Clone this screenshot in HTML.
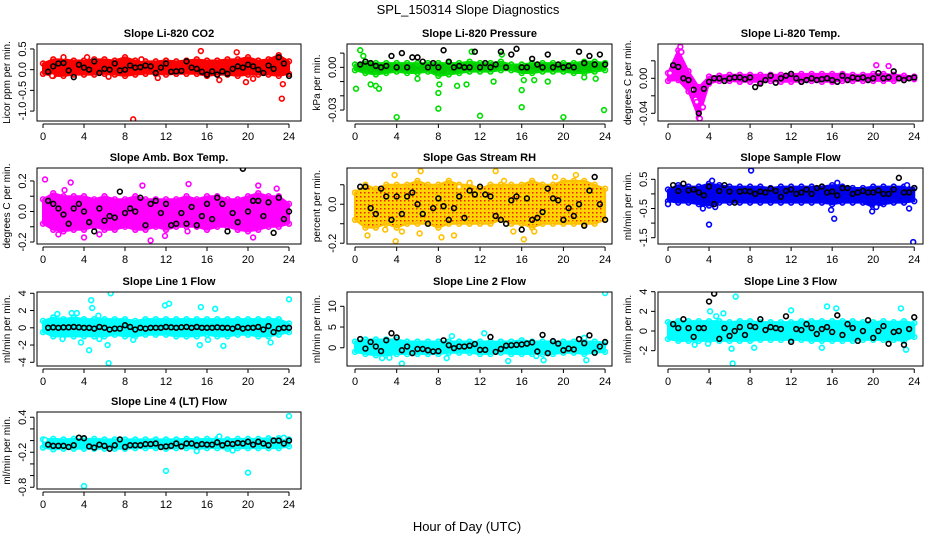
<!DOCTYPE html>
<html><head><meta charset="utf-8"><style>
html,body{margin:0;padding:0;background:#fff}
svg{display:block;font-family:"Liberation Sans",sans-serif}
</style></head><body>
<svg id="chart" width="936" height="540" viewBox="0 0 936 540">
<defs>
<pattern id="rhpat" width="4" height="4" patternUnits="userSpaceOnUse"><rect width="4" height="4" fill="#ffd400"/><rect x="0" y="0" width="1.5" height="1.5" fill="#f02000"/></pattern>
</defs>
<text x="468" y="14" text-anchor="middle" font-size="13">SPL_150314  Slope Diagnostics</text>
<text x="467" y="531" text-anchor="middle" font-size="13">Hour of Day (UTC)</text>
</svg>
<script>
// ---- data (hours 0..24) ----
const hourCats = [0,1,2,3,4,5,6,7,8,9,10,11,12,13,14,15,16,17,18,19,20,21,22,23,24];
const xTicks = [0,4,8,12,16,20,24];

// P1 CO2
const co2Lo = [-0.1,-0.15,-0.15,-0.12,-0.12,-0.12,-0.1,-0.12,-0.15,-0.12,-0.1,-0.1,-0.12,-0.1,-0.1,-0.1,-0.15,-0.12,-0.12,-0.15,-0.12,-0.12,-0.12,-0.15,-0.1];
const co2Hi = [0.15,0.25,0.25,0.22,0.22,0.25,0.25,0.22,0.3,0.22,0.2,0.2,0.22,0.2,0.22,0.25,0.22,0.22,0.25,0.25,0.3,0.22,0.25,0.35,0.2];
const co2OutX = [8.8,15.4,18.9,23.3,23.4,11.2,17.2,19.8,20.5,0.9,2.0,4.3,6.4,9.6];
const co2OutY = [-1.2,0.45,0.42,-0.7,-0.35,-0.2,-0.25,-0.3,-0.22,-0.15,0.3,0.3,-0.17,0.25];
const co2Blk = [-0.05,0.08,0.15,0.16,-0.02,-0.18,0.12,0.05,0.0,0.2,-0.08,0.02,0.0,0.15,-0.02,0.0,0.1,0.05,0.06,0.1,0.08,-0.08,0.05,0.15,-0.05,-0.04,-0.03,0.2,0.05,0.02,-0.05,-0.12,-0.04,-0.12,-0.04,-0.1,0.02,0.08,0.05,0.12,0.08,0.0,-0.08,0.1,0.02,0.3,0.15,-0.15];
// P2 Pressure
const prLo = [-0.002,-0.004,-0.005,-0.004,-0.003,-0.004,-0.004,-0.003,-0.006,-0.005,-0.004,-0.003,-0.003,-0.003,-0.002,-0.002,-0.004,-0.004,-0.003,-0.003,-0.003,-0.004,-0.004,-0.003,-0.002];
const prHi = [0.002,0.004,0.003,0.003,0.003,0.003,0.003,0.003,0.003,0.003,0.003,0.004,0.003,0.003,0.004,0.002,0.002,0.003,0.003,0.003,0.003,0.003,0.004,0.004,0.003];
const prOutX = [0.1,0.5,1.5,2.0,2.3,4.0,6.0,8.0,8.0,8.1,9.8,10.7,12.0,13.3,14.1,16.0,16.0,16.2,17.2,18.5,20.0,22.0,23.1,23.9,0.8,11.2];
const prOutY = [-0.015,0.012,-0.012,-0.013,-0.015,-0.035,-0.008,-0.029,-0.018,-0.012,-0.013,-0.012,-0.034,-0.010,0.009,-0.016,-0.028,-0.009,-0.009,-0.010,-0.035,-0.007,-0.008,-0.030,0.008,0.011];
const prBlk = [0.002,0.004,0.003,0.001,0.0,0.001,0.008,0.0,0.01,0.0,0.007,0.007,0.004,0.0,0.003,0.0,0.012,0.004,0.0,0.001,0.0,0.0,0.011,0.0,0.003,0.0,0.002,0.011,0.0,0.009,0.013,0.0,0.0,0.006,0.002,0.0,0.009,0.0,0.002,0.0,0.001,0.0,0.011,0.003,0.008,0.002,0.009,0.002];
// P3 Li-820 Temp
const ltLo = [-0.003,-0.002,-0.015,-0.045,-0.006,-0.003,-0.003,-0.004,-0.004,-0.004,-0.003,-0.004,-0.004,-0.004,-0.003,-0.004,-0.004,-0.003,-0.003,-0.003,-0.003,-0.003,-0.003,-0.002,-0.001];
const ltHi = [0.006,0.032,0.008,-0.01,0.002,0.003,0.004,0.004,0.004,0.004,0.004,0.004,0.005,0.005,0.005,0.005,0.005,0.005,0.004,0.004,0.005,0.005,0.004,0.003,0.002];
const ltOutX = [1.2,1.3,2.3,2.7,2.8,3.1,3.4,20.3,21.5,0.2];
const ltOutY = [0.036,0.03,-0.013,-0.024,-0.027,-0.046,-0.033,0.015,0.014,0.006];
const ltBlk = [0.015,0.013,0.0,-0.002,-0.013,-0.04,-0.012,-0.004,0.0,0.0,-0.003,0.0,0.001,0.001,-0.001,0.001,-0.01,-0.006,-0.002,0.003,-0.005,0.0,0.003,0.005,0.0,-0.004,-0.002,0.0,-0.002,-0.001,0.0,-0.002,-0.004,0.003,-0.002,0.001,0.0,0.001,-0.002,0.0,0.006,0.0,0.001,0.008,0.0,-0.002,0.0,0.001];
// P4 Amb box temp
const abLo = [-0.08,-0.12,-0.13,-0.12,-0.12,-0.1,-0.12,-0.12,-0.1,-0.12,-0.12,-0.1,-0.12,-0.1,-0.1,-0.1,-0.12,-0.1,-0.1,-0.12,-0.13,-0.12,-0.1,-0.1,-0.08];
const abHi = [0.08,0.12,0.1,0.1,0.1,0.08,0.1,0.08,0.08,0.1,0.08,0.08,0.08,0.08,0.1,0.08,0.1,0.1,0.08,0.08,0.1,0.12,0.1,0.1,0.05];
const abOutX = [0.2,2.7,10.5,14.2,20.5,5.5,1.5,4,11.9,14.1,21,22.8,9.7,2.1];
const abOutY = [0.21,0.19,-0.19,0.18,-0.17,-0.15,-0.15,-0.17,-0.16,-0.13,0.17,0.15,0.17,0.14];
const abBlk = [0.07,0.05,0.02,-0.02,-0.08,0.02,0.05,0.0,-0.07,-0.13,0.02,-0.06,-0.03,-0.04,0.13,-0.01,0.02,0.0,0.09,-0.09,0.05,0.07,-0.01,0.05,-0.09,-0.08,-0.01,-0.08,0.03,-0.09,-0.03,0.05,-0.05,0.09,0.05,-0.13,-0.01,-0.07,0.28,0.0,0.07,0.07,-0.03,0.06,-0.14,0.09,-0.05,0.0];
// P5 Gas stream RH
const rhLo = [-0.08,-0.12,-0.12,-0.1,-0.12,-0.1,-0.1,-0.1,-0.12,-0.1,-0.1,-0.1,-0.1,-0.1,-0.08,-0.1,-0.1,-0.12,-0.1,-0.1,-0.1,-0.1,-0.1,-0.1,-0.08];
const rhHi = [0.06,0.1,0.08,0.1,0.1,0.1,0.12,0.1,0.1,0.12,0.1,0.1,0.08,0.1,0.1,0.1,0.1,0.12,0.1,0.1,0.12,0.12,0.12,0.1,0.08];
const rhOutX = [3.9,13.5,6.3,3.8,1.2,2.9,8.3,9.5,16.2,15.2,21.2,19.2,17.2,14.3,4.5,6.2,11,10];
const rhOutY = [-0.19,0.17,0.17,0.15,-0.16,-0.13,-0.17,-0.16,-0.18,-0.14,0.15,0.14,-0.14,0.12,-0.14,-0.15,0.11,0.09];
const rhBlk = [0.09,0.09,-0.02,-0.05,0.08,0.04,-0.08,0.04,-0.05,0.04,0.06,0.0,-0.05,-0.1,-0.02,0.03,-0.01,-0.08,-0.02,0.04,-0.07,0.07,0.05,0.09,0.05,0.04,-0.06,-0.08,-0.1,0.02,0.04,-0.13,0.03,-0.08,-0.07,-0.04,0.08,0.03,0.02,-0.08,-0.02,-0.06,0.0,-0.11,0.07,0.14,0.0,-0.08];
// P6 Sample flow
const sfLo = [-0.25,-0.3,-0.3,-0.35,-0.4,-0.3,-0.3,-0.3,-0.3,-0.3,-0.3,-0.3,-0.3,-0.3,-0.3,-0.3,-0.35,-0.3,-0.3,-0.3,-0.45,-0.35,-0.3,-0.3,-0.25];
const sfHi = [0.15,0.3,0.25,0.25,0.35,0.3,0.25,0.25,0.25,0.25,0.2,0.25,0.25,0.25,0.25,0.25,0.3,0.25,0.2,0.2,0.25,0.25,0.25,0.25,0.2];
const sfOutX = [4.0,8.1,16.2,15.9,23.9,19.9,0,4.3,23.5,20.3,16.5,23.3,4.6,3.4];
const sfOutY = [-1.05,0.8,-0.85,-0.55,-1.65,-0.6,-0.35,0.45,-0.5,-0.45,0.38,0.3,-0.45,-0.5];
const sfBlk = [0.3,0.1,0.35,0.12,0.15,0.05,-0.05,0.25,-0.35,0.1,0.3,0.08,-0.3,0.08,0.1,0.08,0.0,0.08,0.05,0.18,0.1,-0.1,0.1,0.15,0.0,0.05,0.15,0.0,0.2,0.25,0.05,0.08,-0.05,0.2,0.2,0.0,0.05,0.1,0.05,0.05,0.12,0.0,0.0,0.15,0.55,0.05,0.05,0.2];
// P7 Line 1
const l1Lo = [-0.5,-1,-1,-1,-1,-1,-1,-0.8,-1,-1,-0.8,-0.8,-0.8,-1,-1,-1,-0.8,-1,-1,-0.8,-0.8,-1,-1,-0.8,-0.5];
const l1Hi = [0.8,1.2,1,1.2,1,1,1,1,1,0.8,1,1,1,1,1,1,1,1,1,1,1,1,1,1,0.5];
const l1OutX = [4.7,4.8,6.6,6.4,6.3,4.5,11.9,12.3,15.4,15.3,16.8,17.6,22.2,24,1.4,2.8,3.3,5.4,1.9,8.8,16.1,5.5,3.7];
const l1OutY = [3.2,2.3,4.0,-4.1,-2.0,-2.6,2.6,2.8,2.4,-2.0,2.2,-2.1,-1.7,3.3,1.6,1.7,1.7,1.4,-1.3,-1.4,-1.4,-1.3,-1.7];
const l1Blk = [0,0.05,0,0.05,0.05,0.1,0.05,0,0,-0.1,0.1,0,-0.2,-0.1,-0.1,0.3,0.1,-0.2,0,-0.1,0,0,0,0.1,0.05,0,0.05,0.1,0,0.1,0,0,0,0.05,0,0,-0.1,0.1,-0.1,0,0,0.1,-0.2,0.2,-0.5,-0.1,0,0];
// P8 Line 2
const l2Lo = [-1,-1.5,-1.8,-1.8,-1.5,-1.5,-1.5,-1.5,-1.5,-1.2,-1.2,-1.2,-1.5,-1.5,-1.2,-1.5,-1.5,-1.5,-1.5,-1.5,-1.2,-1.2,-1.5,-1.2,-1];
const l2Hi = [1.5,2,2,2,2,1.5,1.5,1.5,1.5,1.5,1.5,1.5,1.5,1.5,1.5,1.5,1.8,1.5,1.5,1.5,1.5,1.5,1.5,1.5,1.2];
const l2OutX = [24,4.5,14.7,22.2,2.6,3.3,9.3,12.4,8.8,18.1,17.4,22];
const l2OutY = [13.2,-3.8,-3.2,-3,-2.5,-2.4,2.8,3.5,-2.5,-3,-2,2.4];
const l2Blk = [2.1,-0.2,1.4,0.3,-0.8,1.8,3.5,2.5,-0.6,0.3,-1.3,-0.3,-0.3,-0.6,-0.9,-0.8,1.8,0.6,-0.1,0.3,0.3,0.5,0.9,-0.5,-0.5,2.6,-1.0,-0.3,0.5,0.6,0.7,0.8,1.0,1.3,-0.9,3.1,-1.3,1.6,1.0,-0.6,-0.2,-0.4,2.1,1.1,3.0,-1.2,0.3,1.4];
// P9 Line 3
const l3Lo = [-0.8,-1,-1,-1,-1,-1,-1,-1,-1,-0.9,-0.9,-0.9,-0.9,-0.9,-1,-1,-1,-1,-1,-0.9,-0.9,-0.9,-0.9,-1,-0.6];
const l3Hi = [0.9,1,1,1,1,1,0.9,1,1,0.9,0.9,0.9,0.9,1,1,1,1,1,1,0.9,0.9,1,0.9,1,0.8];
const l3OutX = [6.6,6.3,6.2,22.7,23.2,15.5,16.4,12.0,4.1,5.4,4.7,2.6,8.4,15.0,3.9];
const l3OutY = [3.5,-3.3,-1.8,2.3,-1.9,2.5,2.3,2.1,2.0,1.8,1.5,-1.4,-1.7,-1.7,-1.3];
const l3Blk = [0.7,0.3,1.2,0.3,-0.6,0.3,0.3,3.0,3.8,-0.8,0.3,-0.5,0.0,0.4,-0.4,0.5,0.4,1.2,0.1,0.4,0.3,0.2,1.5,-1.1,0.2,0.1,0.7,0.3,-0.3,0.2,0.4,-0.1,1.6,-0.4,0.7,0.3,-1.0,0.0,1.1,-0.7,0.0,0.5,-1.3,-0.1,0.0,-1.4,0.2,1.4];
// P10 Line 4 (LT)
const l4Lo = [-0.12,-0.15,-0.14,-0.14,-0.14,-0.14,-0.14,-0.14,-0.14,-0.13,-0.13,-0.13,-0.14,-0.13,-0.13,-0.14,-0.13,-0.13,-0.14,-0.13,-0.13,-0.13,-0.13,-0.13,-0.1];
const l4Hi = [0.02,0.03,0.02,0.03,0.03,0.03,0.02,0.02,0.02,0.02,0.02,0.02,0.02,0.02,0.03,0.02,0.03,0.03,0.02,0.03,0.03,0.03,0.04,0.04,0.02];
const l4OutX = [4.0,12.0,20.0,24,0.2,17.2,15.0,18.5,23.5];
const l4OutY = [-0.78,-0.52,-0.55,0.42,0.01,0.07,-0.18,-0.17,0.05];
const l4Blk = [-0.07,-0.09,-0.09,-0.09,-0.11,-0.08,0.05,0.04,-0.1,-0.12,-0.07,-0.09,-0.14,-0.08,0.02,-0.11,-0.08,-0.08,-0.08,-0.06,-0.06,-0.05,-0.11,-0.10,-0.09,-0.05,-0.10,-0.05,-0.05,-0.08,-0.06,-0.07,-0.07,-0.03,-0.08,-0.05,-0.06,-0.04,-0.05,-0.02,-0.07,-0.02,-0.05,-0.08,0.0,0.0,-0.05,0.0];

const NS = "http://www.w3.org/2000/svg";
const svg = document.getElementById("chart");
function mk(tag, attrs, parent) {
  const e = document.createElementNS(NS, tag);
  for (const k in attrs) e.setAttribute(k, attrs[k]);
  (parent || svg).appendChild(e);
  return e;
}
const cols = [{l:37,r:301,x0:43,s:10.25},{l:347,r:612,x0:355,s:10.42},{l:658,r:923,x0:668,s:10.26}];
const rows = [{t:44,b:121},{t:168,b:244},{t:292,b:366},{t:412,b:489}];

function panel(o) {
  const c = cols[o.col], r = rows[o.row];
  const g = mk("g", {});
  
  
  const xs = h => c.x0 + h * c.s;
  const ys = v => r.t + (o.ymax - v) / (o.ymax - o.ymin) * (r.b - r.t);
  const clipId = "clip-" + o.id;
  const cp = mk("clipPath", {id: clipId}, g);
  mk("rect", {x: c.l, y: r.t, width: c.r - c.l, height: r.b - r.t}, cp);
  const plot = mk("g", {"clip-path": "url(#" + clipId + ")"}, g);
  // dense band
  let pts = [];
  hourCats.forEach((h, i) => pts.push(xs(h) + "," + ys(o.hi[i])));
  for (let i = hourCats.length - 1; i >= 0; i--) pts.push(xs(hourCats[i]) + "," + ys(o.lo[i]));
  const band = mk("polygon", {points: pts.join(" "), fill: o.fill, stroke: o.color, "stroke-width": 2, "stroke-linejoin": "round"}, plot);
  
  
  // ragged edge circles at hourly bounds
  hourCats.forEach((h, i) => {
    [o.hi[i], o.lo[i]].forEach(v => {
      const e = mk("circle", {cx: xs(h), cy: ys(v), r: 2.4, fill: "none", stroke: o.color, "stroke-width": 1.6}, plot);
      
      
    });
  });
  // colored scatter
  o.ox.forEach((h, i) => {
    const c1 = mk("circle", {cx: xs(h), cy: ys(o.oy[i]), r: 2.4, fill: "#fff", stroke: o.color, "stroke-width": 1.6}, plot);
    
    
  });
  // black half-hourly points
  o.blk.forEach((v, i) => {
    const c2 = mk("circle", {cx: xs(0.5 * (i + 1)), cy: ys(v), r: 2.4, fill: "none", stroke: "#000", "stroke-width": 1.6}, plot);
    
    
  });
  // frame
  const fr = mk("rect", {x: c.l, y: r.t, width: c.r - c.l, height: r.b - r.t, fill: "none", stroke: "#000", "stroke-width": 1}, g);
  
  
  // x axis
  const ax = r.b + 3;
  mk("line", {x1: xs(0), x2: xs(24), y1: ax, y2: ax, stroke: "#000"}, g);
  xTicks.forEach(t => {
    mk("line", {x1: xs(t), x2: xs(t), y1: ax, y2: ax + 4, stroke: "#000"}, g);
    const tl = mk("text", {x: xs(t), y: ax + 16, "text-anchor": "middle", "font-size": 11}, g);
    tl.textContent = t;
    
    
  });
  // y axis
  const ay = c.l - 3;
  mk("line", {x1: ay, x2: ay, y1: ys(o.ticks[0]), y2: ys(o.ticks[o.ticks.length - 1]), stroke: "#000"}, g);
  o.ticks.forEach(t => {
    mk("line", {x1: ay, x2: ay - 4, y1: ys(t), y2: ys(t), stroke: "#000"}, g);
  });
  o.labels.forEach((lab, i) => {
    const y = ys(o.labelVals[i]);
    const tl = mk("text", {x: ay - 8, y: y, "text-anchor": "middle", "font-size": 11, transform: "rotate(-90 " + (ay - 8) + " " + y + ")"}, g);
    tl.textContent = lab;
    
    
  });
  const yt = mk("text", {x: c.l - 27, y: (r.t + r.b) / 2, "text-anchor": "middle", "font-size": 10, transform: "rotate(-90 " + (c.l - 27) + " " + ((r.t + r.b) / 2) + ")"}, g);
  yt.textContent = o.ytitle;
  
  
  const tt = mk("text", {x: (c.l + c.r) / 2, y: r.t - 7, "text-anchor": "middle", "font-size": 11, "font-weight": "bold"}, g);
  tt.textContent = o.title;
  
  
}

panel({id:"co2",col:0,row:0,title:"Slope Li-820 CO2",ytitle:"Licor ppm per min.",ymin:-1.24,ymax:0.62,ticks:[0.5,0,-0.5,-1],labels:["0.5","0.0","-0.5","-1.0"],labelVals:[0.5,0,-0.5,-1],lo:co2Lo,hi:co2Hi,ox:co2OutX,oy:co2OutY,blk:co2Blk,color:"#ff0000",fill:"#ff0000"});
panel({id:"pressure",col:1,row:0,title:"Slope Li-820 Pressure",ytitle:"kPa per min.",ymin:-0.0377,ymax:0.0164,ticks:[0.01,0,-0.01,-0.02,-0.03],labels:["0.00","-0.03"],labelVals:[0,-0.03],lo:prLo,hi:prHi,ox:prOutX,oy:prOutY,blk:prBlk,color:"#00dd00",fill:"#00cc00"});
panel({id:"licor-temp",col:2,row:0,title:"Slope Li-820 Temp.",ytitle:"degrees C per min.",ymin:-0.0488,ymax:0.0392,ticks:[0.02,0,-0.02,-0.04],labels:["0.00","-0.04"],labelVals:[0,-0.04],lo:ltLo,hi:ltHi,ox:ltOutX,oy:ltOutY,blk:ltBlk,color:"#ff00ff",fill:"#ff00ff"});
panel({id:"amb-box-temp",col:0,row:1,title:"Slope Amb. Box Temp.",ytitle:"degrees C per min.",ymin:-0.213,ymax:0.285,ticks:[0.2,0.1,0,-0.1,-0.2],labels:["0.2","0.0","-0.2"],labelVals:[0.2,0,-0.2],lo:abLo,hi:abHi,ox:abOutX,oy:abOutY,blk:abBlk,color:"#ff00ff",fill:"#ff00ff"});
panel({id:"gas-rh",col:1,row:1,title:"Slope Gas Stream RH",ytitle:"percent per min.",ymin:-0.204,ymax:0.186,ticks:[0.1,0,-0.1,-0.2],labels:["0.0","-0.2"],labelVals:[0,-0.2],lo:rhLo,hi:rhHi,ox:rhOutX,oy:rhOutY,blk:rhBlk,color:"#ffc000",fill:"url(#rhpat)"});
panel({id:"sample-flow",col:2,row:1,title:"Slope Sample Flow",ytitle:"ml/min per min.",ymin:-1.716,ymax:0.887,ticks:[0.5,0,-0.5,-1,-1.5],labels:["0.5","-0.5","-1.5"],labelVals:[0.5,-0.5,-1.5],lo:sfLo,hi:sfHi,ox:sfOutX,oy:sfOutY,blk:sfBlk,color:"#0000ff",fill:"#0000ee"});
panel({id:"line1-flow",col:0,row:2,title:"Slope Line 1 Flow",ytitle:"ml/min per min.",ymin:-4.43,ymax:4.15,ticks:[4,2,0,-2,-4],labels:["4","2","0","-2","-4"],labelVals:[4,2,0,-2,-4],lo:l1Lo,hi:l1Hi,ox:l1OutX,oy:l1OutY,blk:l1Blk,color:"#00ffff",fill:"#00ffff"});
panel({id:"line2-flow",col:1,row:2,title:"Slope Line 2 Flow",ytitle:"ml/min per min.",ymin:-4.4,ymax:13.45,ticks:[10,5,0],labels:["10","5","0"],labelVals:[10,5,0],lo:l2Lo,hi:l2Hi,ox:l2OutX,oy:l2OutY,blk:l2Blk,color:"#00ffff",fill:"#00ffff"});
panel({id:"line3-flow",col:2,row:2,title:"Slope Line 3 Flow",ytitle:"ml/min per min.",ymin:-3.56,ymax:3.97,ticks:[4,2,0,-2],labels:["4","2","0","-2"],labelVals:[4,2,0,-2],lo:l3Lo,hi:l3Hi,ox:l3OutX,oy:l3OutY,blk:l3Blk,color:"#00ffff",fill:"#00ffff"});
panel({id:"line4-flow",col:0,row:3,title:"Slope Line 4 (LT) Flow",ytitle:"ml/min per min.",ymin:-0.83,ymax:0.49,ticks:[0.4,0.2,0,-0.2,-0.4,-0.6,-0.8],labels:["0.4","-0.2","-0.8"],labelVals:[0.4,-0.2,-0.8],lo:l4Lo,hi:l4Hi,ox:l4OutX,oy:l4OutY,blk:l4Blk,color:"#00ffff",fill:"#00ffff"});
</script>
</body></html>
